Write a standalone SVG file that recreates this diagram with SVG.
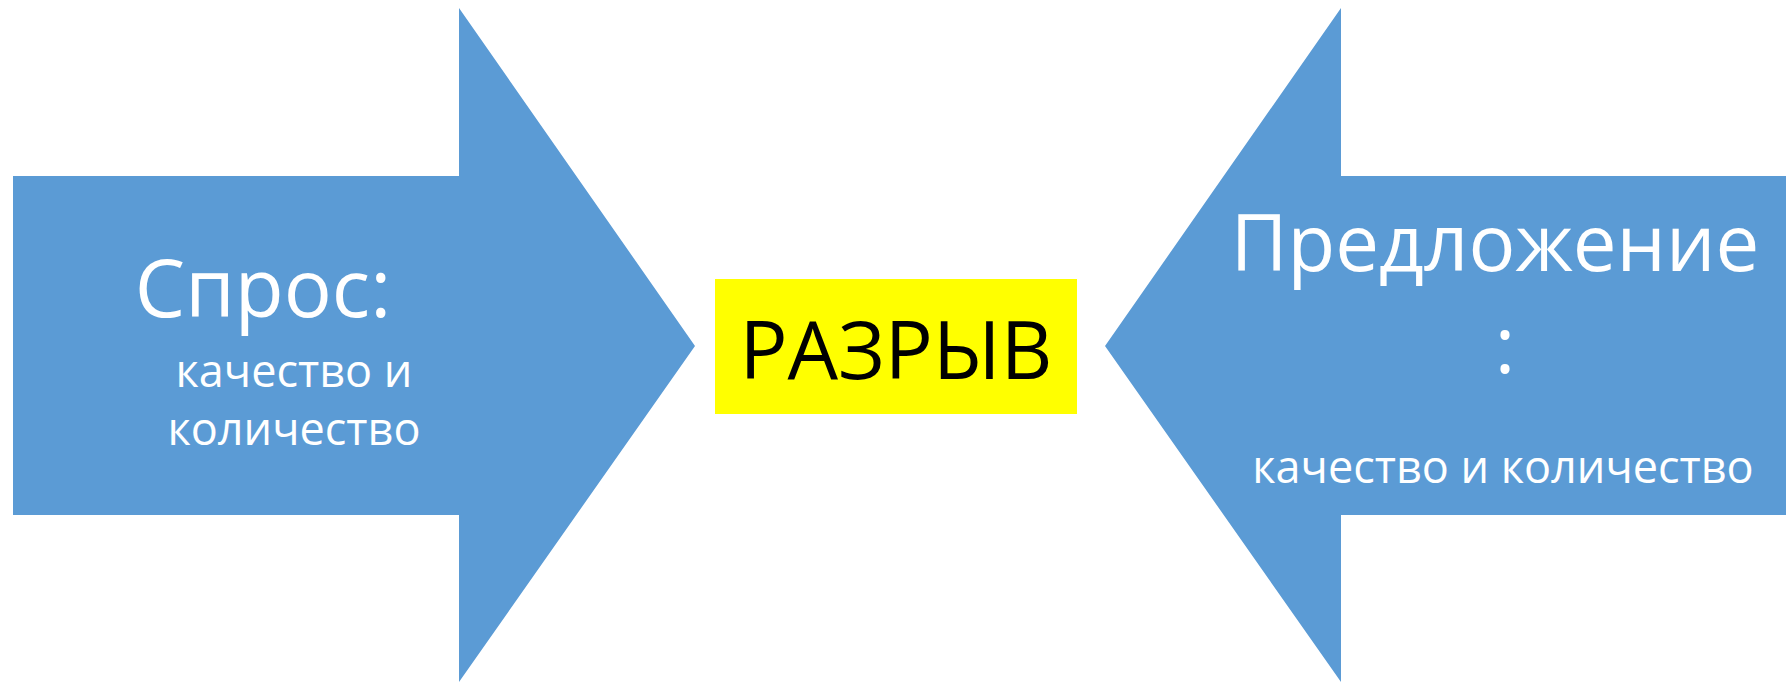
<svg xmlns="http://www.w3.org/2000/svg" width="1788" height="682" viewBox="0 0 1788 682">
<style>
.arrow{fill:#5B9BD5;}
.gap{fill:#FFFF00;}
text{font-family:"Open Sans","Noto Sans","DejaVu Sans",sans-serif;text-anchor:middle;}
.big{font-size:80px;fill:#FFFFFF;}
.sup{font-size:78px;fill:#FFFFFF;}
.small{font-size:45px;fill:#FFFFFF;}
.gaptext{font-size:80px;fill:#000000;}
</style>
<rect width="1788" height="682" fill="#FFFFFF"/>
<g id="demand">
<polygon class="arrow" points="13,176 459,176 459,8 695,346 459,682 459,515 13,515"/>
<text class="big" x="263" y="317">Спрос:</text>
<text class="small" x="294" y="387">качество и</text>
<text class="small" x="294" y="445">количество</text>
</g>
<g id="supply">
<polygon class="arrow" points="1786,176 1341,176 1341,8 1105,346 1341,682 1341,515 1786,515"/>
<text class="sup" x="1495" y="271">Предложение</text>
<text class="sup" x="1505" y="373">:</text>
<text class="small" x="1503" y="483">качество и количество</text>
</g>
<g id="gap">
<rect class="gap" x="715" y="279" width="362" height="135"/>
<text class="gaptext" x="896" y="379">РАЗРЫВ</text>
</g>
<g id="connectors"></g>
</svg>
